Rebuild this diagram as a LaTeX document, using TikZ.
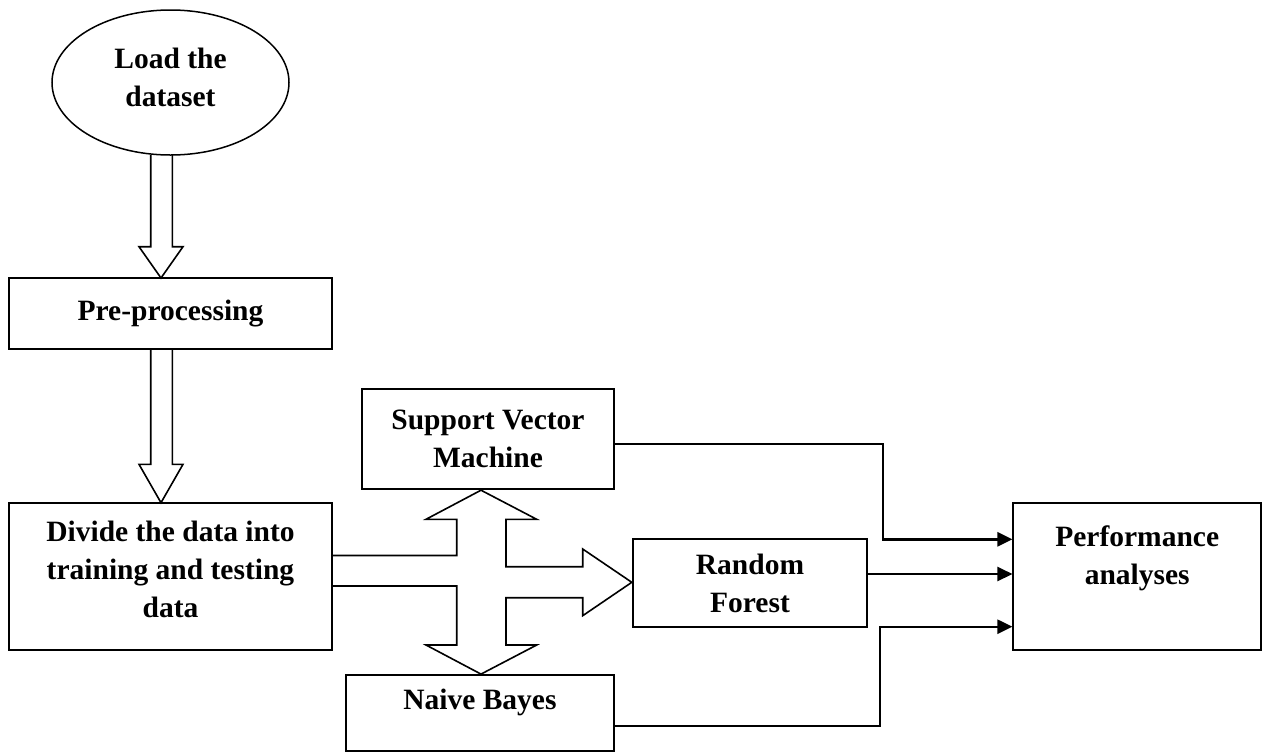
\documentclass[tikz,border=0pt]{standalone}
\usepackage{fontspec}
\setmainfont{Liberation Serif}
\usetikzlibrary{shapes.geometric,arrows.meta,calc}
\tikzset{
  box/.style={draw, line width=1.8pt, rectangle, inner sep=0pt, align=center,
    font=\bfseries\fontsize{29.5}{38}\selectfont},
  oval/.style={draw, line width=1.5pt, ellipse, inner sep=0pt, align=center,
    font=\bfseries\fontsize{29.5}{38}\selectfont},
  txt/.style={inner sep=0pt, align=center, font=\bfseries\fontsize{29.5}{38}\selectfont},
  barrow/.style={draw, line width=1.6pt, line join=miter},
  conn/.style={draw, line width=2.4pt, -{Triangle[length=15pt,width=14pt]}},
}
\begin{document}
\begin{tikzpicture}[x=1pt,y=-1pt]
\useasboundingbox (0,0) rectangle (1267,753);
% nodes
\node[oval, minimum width=237pt, minimum height=145pt] (load) at (170.5,82.5) {};
\node[txt] (loadtxt) at (170.5,77) {Load the\\dataset};
\node[box, minimum width=323pt, minimum height=71pt] (pre) at (170.5,313.5) {Pre-processing};
\node[box, minimum width=323pt, minimum height=147.3pt] (div) at (170.5,576.4) {};
\node[txt] (divtxt) at (170.5,569) {Divide the data into\\training and testing\\data};
\node[box, minimum width=252pt, minimum height=100pt] (svm) at (488,439.3) {Support Vector\\Machine};
\node[box, minimum width=234.6pt, minimum height=87.7pt] (rf) at (750,583) {Random\\Forest};
\node[box, minimum width=268.3pt, minimum height=76pt] (nb) at (479.9,713) {};
\node[txt] (nbtxt) at (479.9,702) {Naive Bayes};
\node[box, minimum width=247.7pt, minimum height=146.7pt] (perf) at (1137.2,576.7) {};
\node[txt] (perftxt) at (1137.2,558) {Performance\\analyses};
% block arrow load -> pre
\coordinate (t1) at (161,278);
\draw[barrow] (150.7,155) -- (150.7,246.7) -- (139,246.7) -- (t1) -- (183,246.7) -- (172.3,246.7) -- (172.3,155);
% block arrow pre -> div
\coordinate (t2) at (161,502.7);
\draw[barrow] (150.7,349) -- (150.7,464.3) -- (139,464.3) -- (t2) -- (183,464.3) -- (172.3,464.3) -- (172.3,349);
% three-way block arrow
\draw[barrow] (div.east |- 0,586) -- (456.7,586) -- (456.7,645) -- (426,645) -- (nb.north -| 481,0)
  -- (536.7,645) -- (506,645) -- (506,597.7) -- (582.7,597.7) -- (582.7,615.7) -- (rf.west |- 0,582.3)
  -- (582.7,549) -- (582.7,566.7) -- (506,566.7) -- (506,519.3) -- (536.7,519.3) -- (svm.south -| 481,0)
  -- (426,519.3) -- (456.7,519.3) -- (456.7,555.5) -- (div.east |- 0,555.5);
% connectors
\coordinate (s1) at (882.7,539.3);
\draw[conn] (svm.east |- 0,444) -| (s1) -- (perf.west |- s1);
\coordinate (r1) at (867.3,574);
\draw[conn] (rf.east |- r1) -- (perf.west |- r1);
\coordinate (n1) at (880,626.7);
\draw[conn] (nb.east |- 0,726) -| (n1) -- (perf.west |- n1);
\end{tikzpicture}
\end{document}
